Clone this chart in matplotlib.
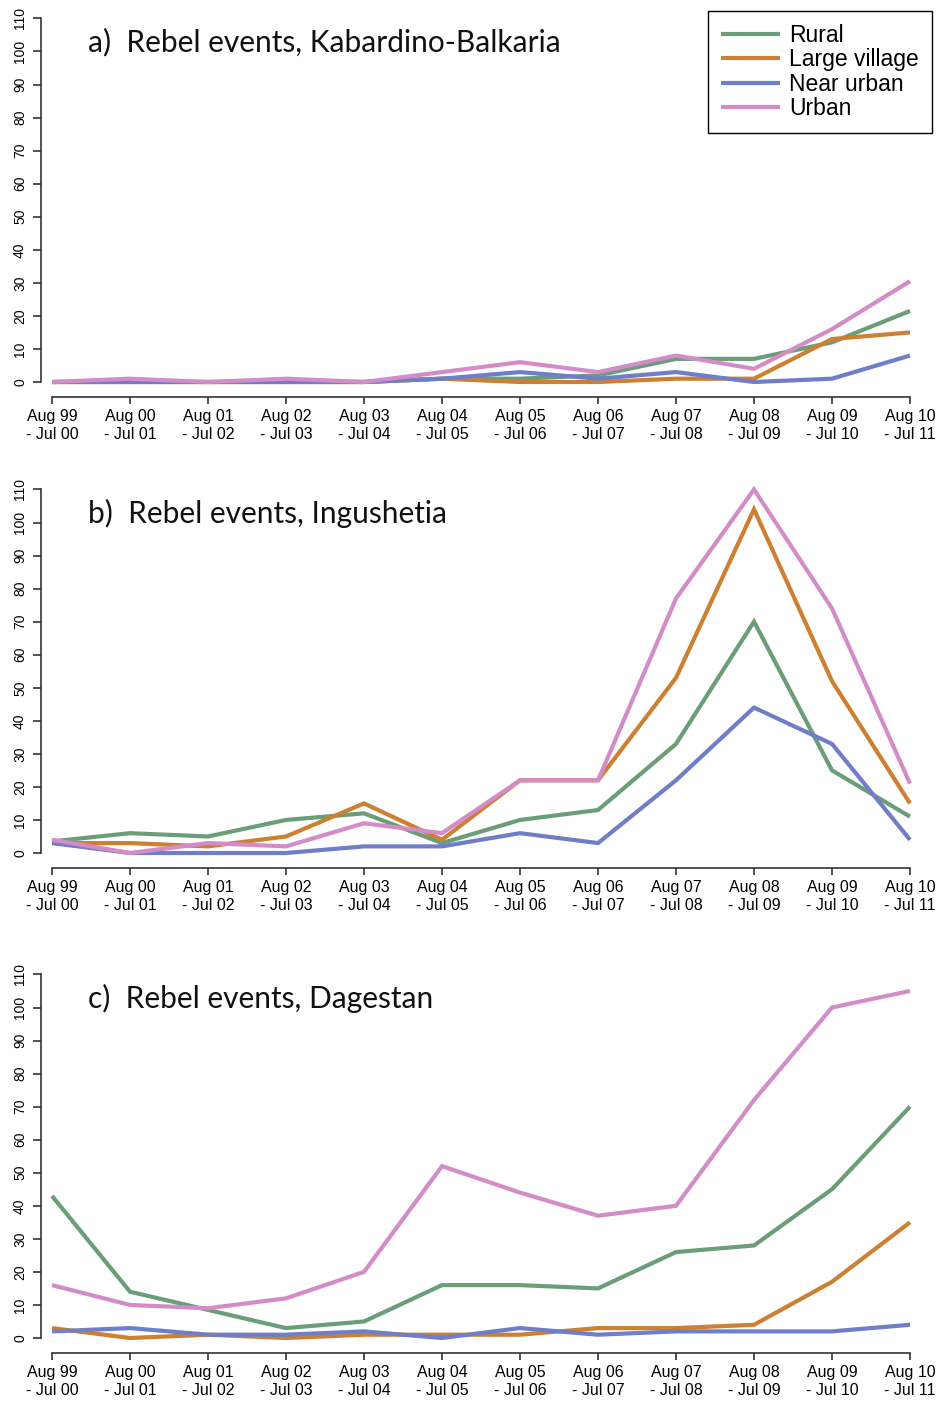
"""Rebel events by settlement type, three North Caucasus republics."""

import matplotlib

matplotlib.use("Agg")
import matplotlib.pyplot as plt

plt.rcParams["font.family"] = ["Liberation Sans", "DejaVu Sans"]

W, H = 940, 1404

periods = ["Aug 99\n- Jul 00", "Aug 00\n- Jul 01", "Aug 01\n- Jul 02", "Aug 02\n- Jul 03",
           "Aug 03\n- Jul 04", "Aug 04\n- Jul 05", "Aug 05\n- Jul 06", "Aug 06\n- Jul 07",
           "Aug 07\n- Jul 08", "Aug 08\n- Jul 09", "Aug 09\n- Jul 10", "Aug 10\n- Jul 11"]
series_names = ["Rural", "Large village", "Near urban", "Urban"]
colors = ["#6b9d78", "#cd7f32", "#6e7ec8", "#d28cc8"]

titles = ["a)  Rebel events, Kabardino-Balkaria",
          "b)  Rebel events, Ingushetia",
          "c)  Rebel events, Dagestan"]

kb_rural = [0, 0, 0, 0, 0, 1, 1, 2, 7, 7, 12, 21.5]
kb_large = [0, 0, 0, 0, 0, 1, 0, 0, 1, 1, 13, 15]
kb_near = [0, 0, 0, 0, 0, 1, 3, 1, 3, 0, 1, 8]
kb_urban = [0, 1, 0, 1, 0, 3, 6, 3, 8, 4, 16, 30.5]

in_rural = [3.5, 6, 5, 10, 12, 3, 10, 13, 33, 70, 25, 11]
in_large = [3, 3, 2, 5, 15, 4, 22, 22, 53, 104, 52, 15]
in_near = [3, 0, 0, 0, 2, 2, 6, 3, 22, 44, 33, 4]
in_urban = [4, 0, 3, 2, 9, 6, 22, 22, 77, 110, 74, 21]

da_rural = [43, 14, 8.5, 3, 5, 16, 16, 15, 26, 28, 45, 70]
da_large = [3, 0, 1, 0, 1, 1, 1, 3, 3, 4, 17, 35]
da_near = [2, 3, 1, 1, 2, 0, 3, 1, 2, 2, 2, 4]
da_urban = [16, 10, 9, 12, 20, 52, 44, 37, 40, 72, 100, 105]

panels = [
    [kb_rural, kb_large, kb_near, kb_urban],
    [in_rural, in_large, in_near, in_urban],
    [da_rural, da_large, da_near, da_urban],
]

# pixel position of the zero line for each panel
zero_px = [382, 853, 1338]
px_per_unit = 3.305
x_first, x_step = 52, 78
left_px = 41

fig = plt.figure(figsize=(W / 100, H / 100), dpi=100)

xs = list(range(1, len(periods) + 1))
for i, data in enumerate(panels):
    y_lo, y_hi = -4.4, 114.4
    bottom_px = zero_px[i] - y_lo * px_per_unit
    height_px = (y_hi - y_lo) * px_per_unit
    x_lo = 1 - (x_first - left_px) / x_step
    x_hi = 12.3
    width_px = (x_hi - x_lo) * x_step
    ax = fig.add_axes([left_px / W, 1 - bottom_px / H, width_px / W, height_px / H])

    for values, color in zip(data, colors):
        ax.plot(xs, values, color=color, linewidth=3, solid_capstyle="butt",
                solid_joinstyle="miter")

    ax.set_xlim(x_lo, x_hi)
    ax.set_ylim(y_lo, y_hi)
    ax.set_yticks(range(0, 111, 10))
    ax.set_yticklabels([str(v) for v in range(0, 111, 10)], rotation=90, va="center",
                       fontsize=10)
    ax.set_xticks(xs)
    ax.set_xticklabels(periods, fontsize=11.5, linespacing=1.25)
    for side in ("top", "right"):
        ax.spines[side].set_visible(False)
    ax.spines["left"].set_bounds(0, 110)
    ax.spines["bottom"].set_bounds(1, 12)
    for side in ("left", "bottom"):
        ax.spines[side].set_color("#333333")
        ax.spines[side].set_linewidth(1.2)
    ax.tick_params(axis="y", length=6, width=1.2, color="#333333", pad=4)
    ax.tick_params(axis="x", length=5, width=1.2, color="#333333", pad=4)
    ax.patch.set_visible(False)

    fig.text(88 / W, 1 - (zero_px[i] - 340) / H, titles[i], fontsize=21.5,
             family=["Lato", "DejaVu Sans"], ha="left", va="center", color="#111111")

    if i == 0:
        handles = ax.get_lines()
        leg = ax.legend(handles, series_names, loc="upper left",
                        bbox_to_anchor=((708 - left_px) / width_px,
                                        1 - (11 - (bottom_px - height_px)) / height_px),
                        fontsize=16.5, frameon=True, fancybox=False, framealpha=1,
                        edgecolor="black", handlelength=2.6, handletextpad=0.4,
                        labelspacing=0.07, borderpad=0.55, borderaxespad=0)
        leg.get_frame().set_linewidth(1.0)

fig.savefig("out.png", dpi=100)
